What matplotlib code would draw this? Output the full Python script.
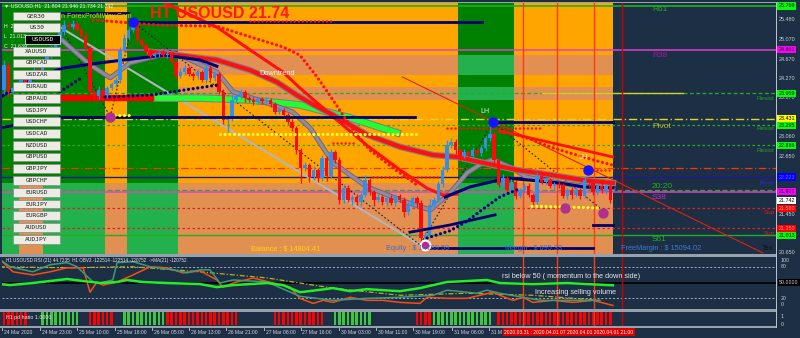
import matplotlib
matplotlib.use("Agg")
import matplotlib.pyplot as plt
from matplotlib.patches import Rectangle
from matplotlib.transforms import blended_transform_factory as blend
import numpy as np

W, H = 800, 338
BG = '#1d2f45'
FONT = 'Liberation Sans'

# ---------------- candle data (hourly bars, index = bar number) ----------------
first_open = 24.03
closes = [24.55, 23.99, 24.07, 24.15, 24.24, 24.17, 24.32, 24.44, 24.38, 24.59,
          24.75, 24.92, 25.06, 25.23, 25.38, 25.33, 25.40, 25.27, 25.15, 24.90,
          23.99, 23.90, 24.03, 23.92, 24.07, 24.15, 24.24, 24.86, 25.11, 25.27,
          25.40, 25.06, 24.96, 24.82, 24.73, 24.77, 24.80, 24.75, 24.77, 24.61,
          24.32, 24.40, 24.48, 24.36, 24.32, 24.40, 24.24, 24.48, 24.28, 24.36,
          23.99, 23.41, 23.45, 23.82, 23.90, 23.99, 23.86, 23.82, 23.78, 23.84,
          23.80, 23.82, 23.74, 23.57, 23.61, 23.51, 23.37, 23.24, 22.78, 22.41,
          22.47, 22.22, 22.37, 22.20, 22.62, 22.25, 22.74, 22.58, 21.75, 22.00,
          21.75, 21.81, 21.71, 21.85, 22.16, 21.91, 21.75, 21.81, 21.71, 21.79,
          21.69, 21.83, 21.75, 21.50, 21.64, 21.79, 21.69, 20.96, 21.02, 21.64,
          21.75, 22.08, 22.37, 22.89, 22.95, 22.78, 22.66, 22.74, 22.66, 22.78,
          22.72, 22.83, 23.03, 23.12, 22.58, 22.06, 22.20, 21.96, 22.12, 21.83,
          21.96, 22.04, 21.85, 21.71, 22.25, 22.12, 22.16, 22.04, 22.08, 22.06,
          21.83, 21.96, 21.85, 21.96, 21.83, 22.16, 22.10, 21.91, 22.04, 21.96,
          22.04, 21.742]
up_wick = [0.10, 0.06, 0.05, 0.06, 0.04, 0.07, 0.05, 0.06, 0.05, 0.08,
           0.06, 0.05, 0.07, 0.05, 0.10, 0.06, 0.08, 0.05, 0.06, 0.07,
           0.05, 0.05, 0.08, 0.06, 0.05, 0.04, 0.06, 0.05, 0.08, 0.06,
           0.08, 0.06, 0.05, 0.04, 0.06, 0.05, 0.04, 0.05, 0.06, 0.04,
           0.05, 0.08, 0.06, 0.05, 0.04, 0.07, 0.05, 0.10, 0.06, 0.05,
           0.04, 0.05, 0.06, 0.12, 0.05, 0.06, 0.04, 0.05, 0.06, 0.05,
           0.04, 0.06, 0.05, 0.04, 0.07, 0.05, 0.04, 0.06, 0.05, 0.04,
           0.06, 0.05, 0.08, 0.05, 0.06, 0.04, 0.07, 0.05, 0.06, 0.08,
           0.05, 0.04, 0.06, 0.05, 0.10, 0.05, 0.04, 0.06, 0.05, 0.04,
           0.06, 0.05, 0.04, 0.05, 0.06, 0.05, 0.04, 0.05, 0.06, 0.12,
           0.05, 0.06, 0.08, 0.10, 0.08, 0.06, 0.05, 0.07, 0.05, 0.06,
           0.05, 0.06, 0.05, 0.24, 0.06, 0.05, 0.08, 0.05, 0.06, 0.05,
           0.04, 0.06, 0.05, 0.04, 0.07, 0.05, 0.06, 0.04, 0.05, 0.06,
           0.05, 0.04, 0.06, 0.05, 0.04, 0.08, 0.05, 0.04, 0.06, 0.05,
           0.04, 0.05]
lo_wick = [0.08, 0.10, 0.05, 0.06, 0.05, 0.04, 0.06, 0.05, 0.07, 0.05,
           0.05, 0.06, 0.04, 0.05, 0.06, 0.05, 0.04, 0.06, 0.05, 0.06,
           0.06, 0.08, 0.05, 0.10, 0.06, 0.04, 0.05, 0.06, 0.05, 0.04,
           0.05, 0.06, 0.05, 0.06, 0.05, 0.04, 0.05, 0.06, 0.05, 0.06,
           0.06, 0.05, 0.06, 0.05, 0.08, 0.06, 0.05, 0.06, 0.05, 0.06,
           0.05, 0.08, 0.25, 0.06, 0.05, 0.06, 0.08, 0.05, 0.06, 0.04,
           0.06, 0.05, 0.06, 0.05, 0.04, 0.06, 0.05, 0.06, 0.08, 0.30,
           0.06, 0.10, 0.05, 0.08, 0.06, 0.10, 0.05, 0.06, 0.08, 0.06,
           0.05, 0.10, 0.06, 0.08, 0.05, 0.06, 0.12, 0.05, 0.06, 0.08,
           0.05, 0.06, 0.05, 0.10, 0.06, 0.05, 0.08, 0.08, 0.06, 0.05,
           0.06, 0.05, 0.06, 0.05, 0.06, 0.08, 0.10, 0.05, 0.06, 0.05,
           0.06, 0.05, 0.06, 0.05, 0.08, 0.05, 0.06, 0.08, 0.05, 0.06,
           0.05, 0.06, 0.05, 0.08, 0.06, 0.05, 0.06, 0.05, 0.08, 0.06,
           0.05, 0.06, 0.08, 0.05, 0.06, 0.05, 0.08, 0.06, 0.05, 0.06,
           0.08, 0.06]

# ---------------- background zones (bar edges) ----------------
upper_edges = [-0.5, 23.5, 28.5, 40.5, 105.5, 118.5, 141.6]
upper_kind = ['g', 'o', 'g', 'o', 'g', 'o']
lower_edges = [-0.5, 3.5, 9.0, 23.5, 28.5, 40.5, 105.5, 118.5, 141.6]
lower_kind = ['g', 'o', 'g', 'o', 'g', 'o', 'g', 'o']
zone_split = 22.10
light_bands = [(24.339, 24.753), (23.821, 24.090)]
light_band_start = 40.5

# ---------------- horizontal levels ----------------
levels = [(25.769, '#1fb01f', '-', 1.2), (24.861, '#e040d0', '-', 1.1),
          (23.959, '#22b022', (0, (3, 2)), 0.9), (23.431, '#d8d820', (0, (6, 2, 1, 2)), 1.0),
          (23.295, '#22b022', (0, (2, 2)), 0.9), (22.886, '#22b022', (0, (2, 2)), 0.9),
          (22.411, '#ff3010', (0, (6, 2, 1, 2)), 0.9), (22.223, '#1a1a9a', '-', 1.0),
          (21.955, '#22b022', (0, (4, 2)), 0.9), (21.921, '#e040d0', '-', 1.1),
          (21.580, '#e02020', (0, (2, 2)), 0.9), (21.168, '#e02020', (0, (2, 2)), 0.9),
          (21.013, '#22b022', '-', 1.0)]

axis_ticks = [25.480, 25.070, 24.670, 24.270, 23.870, 23.060, 22.650, 21.450, 20.650]
price_tags = [(25.769, '#00ff00', 'k'), (24.861, '#ff00ff', 'k'), (23.959, '#00ff00', 'k'),
              (23.431, '#ffff00', 'k'), (23.295, '#00ff00', 'k'), (22.886, '#00ff00', 'k'),
              (22.223, '#0000ff', '#6060ff'), (21.921, '#ff00ff', 'k'), (21.742, '#ffffff', 'k'),
              (21.580, '#ff0000', '#ff9090'), (21.150, '#ff0000', '#ff9090'), (21.013, '#00ff00', 'k')]

# ---------------- moving averages / lines (bar, price) ----------------
navy_left_x = [-0.9, 6.0, 13.7, 22.3, 31.6, 37.4, 45.6, 49.5]
navy_left_y = [23.88, 24.24, 24.48, 24.59, 24.69, 24.75, 24.65, 24.52]
navy_right_x = [102.6, 108.4, 117.0, 122.3, 129.3, 134.7, 141.6]
navy_right_y = [21.81, 22.02, 22.20, 22.16, 22.10, 22.02, 22.00]
red_steep_x = [37.4, 49.5, 57.2, 64.9, 68.8, 78.8, 84.4, 92.1, 98.4, 102.1, 105.3]
red_steep_y = [25.83, 25.33, 24.86, 24.40, 24.07, 23.30, 22.88, 22.37, 21.99, 21.85, 21.87]
red_slow_x = [34.0, 49.5, 57.2, 63.5, 68.1, 71.2, 76.5, 84.4, 92.1, 99.8, 105.3, 111.4, 119.3, 127.0, 134.7, 141.6]
red_slow_y = [24.82, 24.65, 24.44, 24.19, 23.92, 23.76, 23.51, 23.10, 22.85, 22.68, 22.64, 22.52, 22.37, 22.27, 22.16, 22.10]
gray_fast_x = [13.5, 20.0, 24.7, 29.3, 36.3, 40.9, 49.5, 53.3, 61.2, 67.2, 71.2, 76.5, 84.4, 92.1,
               99.1, 103.7, 107.7, 111.4, 113.7, 117.7, 121.6, 129.3, 141.6]
gray_fast_y = [25.06, 24.55, 24.28, 24.59, 24.75, 24.75, 24.40, 23.99, 23.76, 23.57, 23.24, 22.52, 22.02, 21.75,
               21.54, 21.89, 22.31, 22.52, 22.58, 22.43, 22.22, 22.10, 21.96]
ribbon_red_x = [13.0, 35.6]
ribbon_red_y = [23.86, 23.86]
ribbon_green_x = [35.6, 45.6, 57.2, 68.8, 80.5, 91.4]
ribbon_green_y = [23.86, 23.86, 23.82, 23.72, 23.45, 23.14]
trend_gray_x = [13.0, 96.7]
trend_gray_y = [25.33, 20.82]
trend_red_x = [92.6, 176.5]
trend_red_y = [24.30, 20.65]
zigzag_x = [13.5, 24.7, 30.0, 96.7, 113.7, 138.6]
zigzag_y = [25.31, 23.47, 25.44, 20.82, 23.36, 21.58]
lh_line_x = [115.3, 141.6]
lh_line_y = [23.18, 22.64]

# dotted (SAR-like) series
red_sar1_x = [20.7, 36.3, 49.5, 57.2, 64.9, 68.8, 72.8, 76.5, 78.8, 81.2, 85.1, 90.5, 96.0]
red_sar1_y = [25.48, 25.37, 25.35, 25.13, 24.92, 24.75, 24.30, 23.82, 23.51, 23.20, 22.78, 22.41, 22.06]
red_sar2_x = [115.3, 119.3, 123.0, 127.0, 130.9, 134.7, 138.6, 141.6]
red_sar2_y = [23.16, 23.10, 22.99, 22.85, 22.74, 22.64, 22.54, 22.47]
navy_sar_left_x = [13.0, 18.4]
navy_sar_left_y = [23.99, 24.30]
navy_sar_mid_x = [23.5, 34.0, 42.1, 49.5]
navy_sar_mid_y = [23.88, 23.92, 24.03, 24.13]
navy_sar_right_x = [98.4, 103.7, 107.7, 111.4, 115.3, 119.3]
navy_sar_right_y = [20.96, 21.11, 21.31, 21.56, 21.81, 21.96]
yellow_dots = [((50.2, 96.7), (23.12, 23.12)), ((122.8, 138.6), (21.62, 21.58)), ((24.7, 29.3), (23.51, 23.51))]
red_dot_rows = [((57.2, 76.3), 25.46), ((76.5, 82.1), 22.93), ((85.8, 101.4), 22.22),
                ((103.0, 124.7), 23.24), ((137.0, 141.6), 22.37)]
navy_rows = [((13.0, 28.8), (25.62, 25.62)), ((30.0, 111.2), (25.44, 25.44)), ((13.0, 95.6), (23.47, 23.47)),
             ((113.7, 141.6), (23.36, 23.36)), ((97.4, 137.0), (20.75, 20.75)), ((137.0, 141.6), (21.23, 21.23)),
             ((-0.9, 9.1), (23.24, 23.41))]
navy_curve_x = [94.4, 103.7, 114.2]
navy_curve_y = [21.08, 21.23, 21.44]

magenta_pts = [(24.7, 23.47), (130.5, 21.58), (139.3, 21.48)]
blue_pts = [(30.0, 25.44), (113.7, 23.36), (135.8, 22.37)]
ring_pt = (97.9, 20.82)
lh_labels = [(111.9, 23.50), (134.7, 22.55)]
vlines_bars = [120.7, 128.6, 137.2]
vline_dark = 143.7

zone_labels = [('R61', 25.686, '#22b022'), ('R38', 24.753, '#9a1fa0'), ('Pivot', 23.28, '#b8b830'),
               ('20:20', 22.02, '#22b022'), ('S38', 21.81, '#c030c0'), ('S61', 20.92, '#22b022')]
side_labels = [('Resist', 175.1, 23.86, '#22a022'), ('Resist', 175.1, 23.22, '#22a022'),
               ('Resist', 175.1, 22.78, '#22a022'), ('Pivot', 175.6, 22.10, '#2a2ad0'),
               ('Sup', 176.7, 21.48, '#d02020'), ('Sup', 176.7, 21.06, '#d02020')]

# ---------------- RSI / OBV panel ----------------
rsi_x = [-0.9, 1.4, 6.7, 10.7, 14.7, 18.4, 22.3, 26.3, 28.6, 32.3, 37.9, 45.6, 49.5, 53.3, 61.2, 64.9, 68.8,
         72.8, 76.5, 80.5, 84.4, 88.1, 92.1, 96.7, 99.8, 103.0, 107.7, 112.3, 115.3, 123.0, 130.9, 135.6, 141.6]
rsi_v = [47.0, 45.1, 49.0, 52.8, 56.7, 52.8, 49.0, 50.9, 54.8, 50.9, 49.0, 47.0, 41.2, 45.1, 49.0, 45.1, 31.5,
         35.4, 39.3, 33.5, 37.4, 35.4, 33.5, 39.3, 45.1, 50.9, 52.8, 54.8, 49.0, 47.0, 49.0, 47.0, 44.7]
obv_x = [-0.9, 2.1, 6.7, 10.7, 14.7, 18.4, 20.0, 21.6, 23.0, 26.3, 30.0, 34.0, 37.9, 41.6, 45.6, 49.5, 50.9,
         53.3, 57.9, 62.6, 66.5, 68.8, 71.9, 74.2, 76.5, 80.5, 84.4, 88.1, 92.1, 96.7, 98.4, 103.0, 107.7,
         113.7, 115.3, 118.4, 120.7, 123.0, 127.7, 132.3, 137.0, 141.6]
obv_v = [93.5, 70.3, 64.4, 70.3, 78.0, 78.0, 31.5, 50.9, 45.1, 50.9, 64.4, 79.9, 78.0, 68.3, 72.2, 54.8, 41.2,
         49.0, 58.6, 49.0, 41.2, 19.9, 10.3, 16.1, 12.2, 21.9, 16.1, 16.1, 12.2, 10.3, 21.9, 19.9, 19.9,
         31.5, 25.7, 16.1, 21.9, 12.2, 16.1, 12.2, 16.1, 6.4]
obv2_x = [-0.9, 1.4, 6.7, 10.7, 14.7, 17.0, 20.7, 22.3, 25.3, 26.3, 30.0, 34.0, 39.3, 42.6, 45.6, 47.9, 50.2,
          53.3, 61.2, 68.8, 76.5, 84.4, 92.1, 99.8, 103.0, 107.7, 110.0, 112.3, 115.3, 124.7, 134.0, 138.6]
obv2_v = [93.5, 79.9, 70.3, 83.8, 87.7, 79.9, 50.9, 49.0, 54.8, 87.7, 89.6, 79.9, 74.1, 68.3, 74.1, 74.1, 49.0,
          54.8, 50.9, 23.8, 16.1, 19.9, 21.9, 25.7, 35.4, 31.5, 29.6, 35.4, 29.6, 16.1, 16.1, 16.1]
obv_ma_x = [-0.9, 14.7, 30.0, 45.6, 61.2, 76.5, 92.1, 107.7, 123.0, 138.6]
obv_ma_v = [79.9, 78.0, 79.9, 70.3, 58.6, 39.3, 25.7, 29.6, 25.7, 16.1]

# ---------------- ratio histogram (bar ranges) ----------------
hist_runs = [(0, 5, 'r'), (9, 17, 'g'), (20, 25, 'r'), (28, 37, 'g'), (38, 54, 'r'),
             (63, 74, 'r'), (77, 85, 'g'), (96, 99, 'r'), (100, 113, 'g'), (115, 141, 'r')]

# ---------------- time axis ----------------
time_ticks = [-0.5, 8.4, 17.0, 25.8, 34.4, 43.0, 51.6, 60.5, 69.0, 77.9, 86.5, 95.1, 104.2, 112.8]
time_labels = ['24 Mar 2020', '24 Mar 23:00', '25 Mar 10:00', '25 Mar 18:00', '26 Mar 05:00',
               '26 Mar 13:00', '26 Mar 21:00', '27 Mar 08:00', '27 Mar 16:00', '30 Mar 03:00',
               '30 Mar 11:00', '30 Mar 19:00', '31 Mar 06:00', '31 M']

symbols = ['GER30', 'US30', 'USOUSD', 'XAUUSD', 'GBPCAD', 'USDZAR', 'EURAUD', 'GBPAUD', 'USDJPY', 'USDCHF',
           'USDCAD', 'NZDUSD', 'GBPUSD', 'GBPJPY', 'GBPCHF', 'EURUSD', 'EURJPY', 'EURGBP', 'AUDUSD', 'AUDJPY']

# =============================== drawing ===============================
fig = plt.figure(figsize=(8, 3.38), dpi=100, facecolor=BG)


def fx(px):
    return px / W


def fy(py):
    return 1 - py / H


XL = (-0.465, 179.53)
ax = fig.add_axes([fx(2), fy(253.5), fx(776) - fx(2), (253.5 - 3) / H])
ax.set_xlim(*XL)
ax.set_ylim(20.639, 25.831)
ax.axis('off')

COL = {'g': '#008000', 'o': '#ffa500'}
LCOL = {'g': '#22b14c', 'o': '#e28f52'}
for i, k in enumerate(upper_kind):
    x0, x1 = upper_edges[i], upper_edges[i + 1]
    ax.add_patch(Rectangle((x0, zone_split), x1 - x0, 25.831 - zone_split, color=COL[k], lw=0, zorder=0))
    xs = max(x0, light_band_start)
    if xs < x1:
        for b0, b1 in light_bands:
            ax.add_patch(Rectangle((xs, b0), x1 - xs, b1 - b0, color=LCOL[k], lw=0, zorder=0.1))
for i, k in enumerate(lower_kind):
    x0, x1 = lower_edges[i], lower_edges[i + 1]
    ax.add_patch(Rectangle((x0, 20.639), x1 - x0, zone_split - 20.639, color=LCOL[k], lw=0, zorder=0))

for p, c, ls, lw in levels:
    ax.axhline(p, color=c, ls=ls, lw=lw, zorder=1)
ax.plot([125.1, 158.0], [23.959, 23.959], color='#d0d020', lw=1.0, zorder=1.1)

for b in vlines_bars:
    ax.axvline(b, color='#ff3a10', lw=1.0, zorder=1.5)
ax.axvline(vline_dark, color='#d00000', lw=1.0, zorder=1.5)

ax.plot(trend_gray_x, trend_gray_y, color='#b4b4bc', lw=1.5, zorder=2)
ax.plot(trend_red_x, trend_red_y, color='#e02010', lw=0.8, zorder=2)
ax.plot(zigzag_x, zigzag_y, color='#202020', lw=0.8, ls=(0, (1.5, 2)), zorder=2)

# ribbon
ax.plot(ribbon_red_x, ribbon_red_y, color='#ff0000', lw=4.5, zorder=2.5, solid_capstyle='butt')
ax.plot(ribbon_green_x, ribbon_green_y, color='#808080', lw=5.5, zorder=2.4)
ax.plot(ribbon_green_x, ribbon_green_y, color='#20ff30', lw=4.0, zorder=2.5)

ax.plot(gray_fast_x, gray_fast_y, color='#7a5f8a', lw=3.6, zorder=3)
ax.plot(gray_fast_x, gray_fast_y, color='#8e8e98', lw=2.2, zorder=3.05)
ax.plot(red_slow_x, red_slow_y, color='#808088', lw=4.6, zorder=3.1)
ax.plot(red_slow_x, red_slow_y, color='#ff1010', lw=3.0, zorder=3.15)
ax.plot(red_steep_x, red_steep_y, color='#ff1010', lw=2.2, zorder=3.2)
ax.plot(navy_left_x, navy_left_y, color='#00007a', lw=2.2, zorder=3.2)
ax.plot(navy_right_x, navy_right_y, color='#00007a', lw=2.2, zorder=3.2)
ax.plot(lh_line_x, lh_line_y, color='#ff1010', lw=2.0, zorder=3.2)

# candles
idx = np.arange(len(closes))
c = np.array(closes)
o = np.array([first_open] + closes[:-1])
hi = np.maximum(o, c) + np.array(up_wick)
lo = np.minimum(o, c) - np.array(lo_wick)
cols = np.where(c >= o, '#2f8fea', '#ff0a0a')
ax.vlines(idx, lo, hi, colors=cols, lw=0.9, zorder=4)
ax.bar(idx, np.maximum(np.abs(c - o), 0.02), bottom=np.minimum(o, c), width=0.8, color=cols, lw=0, zorder=4.1)

for (xa, xb), (ya, yb) in navy_rows:
    ax.plot([xa, xb], [ya, yb], color='#000070', lw=2.0, zorder=4.5)
ax.plot(navy_curve_x, navy_curve_y, color='#000070', lw=2.0, zorder=4.5)

DOT = dict(ls=(0, (0.01, 1.45)), dash_capstyle='round', lw=2.3, zorder=5)
ax.plot(red_sar1_x, red_sar1_y, color='#ff1010', **DOT)
ax.plot(red_sar2_x, red_sar2_y, color='#ff1010', **DOT)
for xs_, ys_ in [(navy_sar_left_x, navy_sar_left_y), (navy_sar_mid_x, navy_sar_mid_y),
                 (navy_sar_right_x, navy_sar_right_y)]:
    ax.plot(xs_, ys_, color='#000080', **DOT)
for xs_, ys_ in yellow_dots:
    ax.plot(xs_, ys_, color='#ffff20', **DOT)
for (xa, xb), yv in red_dot_rows:
    ax.plot([xa, xb], [yv, yv], color='#ff1010', ls=(0, (0.01, 1.6)), dash_capstyle='round', lw=1.8, zorder=5)

for xm, ym in magenta_pts:
    ax.plot(xm, ym, 'o', ms=6.5, color='#b0308e', zorder=6)
for xm, ym in blue_pts:
    ax.plot(xm, ym, 'o', ms=6.5, color='#1414ff', zorder=6)
ax.plot(*ring_pt, 'o', ms=7, mfc='#c02090', mec='white', mew=1.5, zorder=6)
for xl, yl in lh_labels:
    ax.text(xl, yl, 'LH', color='#f0f0f0', fontsize=5, family=FONT, ha='center', va='bottom', zorder=7)

for s, yv, col in zone_labels:
    ax.text(150.7, yv, s, color=col, fontsize=6, family=FONT, ha='left', va='center', zorder=7)
for s, xv, yv, col in side_labels:
    ax.text(xv, yv, s, color=col, fontsize=4.6, family=FONT, ha='left', va='center', zorder=7, clip_on=True)

ax.text(59.5, 24.38, 'Downtrend', color='#f4f4f4', fontsize=5.3, family=FONT, ha='left', va='center', zorder=7)

# right price axis
tr = blend(fig.transFigure, ax.transData)
for p in axis_ticks:
    fig.text(fx(779), p, f'{p:.3f}', transform=tr, color='#c8d0d8', fontsize=3.9, family=FONT, va='center')
for p, fc, tc in price_tags:
    fig.text(fx(778.5), p, f'{p:.3f}', transform=tr, color=tc, fontsize=3.9, family=FONT, va='center',
             bbox=dict(boxstyle='square,pad=0.2', fc=fc, ec='none'))

# ---------------- RSI panel ----------------
ax2 = fig.add_axes([fx(2), fy(308.5), fx(776) - fx(2), (308.5 - 256.5) / H])
ax2.set_xlim(*XL)
ax2.set_ylim(0.6, 99.4)
ax2.axis('off')
ax2.axhline(80, color='#a8b0b8', ls=(0, (2, 2)), lw=0.7)
ax2.axhline(20, color='#a8b0b8', ls=(0, (2, 2)), lw=0.7)
ax2.axhline(50, color='#000000', lw=1.2)
for b in vlines_bars:
    ax2.axvline(b, color='#ff3a10', lw=1.0)
ax2.axvline(vline_dark, color='#d00000', lw=1.0)
ax2.plot(obv_ma_x, obv_ma_v, color='#b8b020', lw=0.9, ls=(0, (4, 1.5, 1, 1.5)))
ax2.plot(obv_x, obv_v, color='#ff4a10', lw=1.1)
ax2.plot(obv2_x, obv2_v, color='#3d9a7a', lw=1.1)
ax2.plot(rsi_x, rsi_v, color='#22ee22', lw=1.8)
ax2.text(0.005, 0.93, 'H1 USOUSD RSI (21) 44.7235  H1 OBV2 -122514 -122514 -120752  ->MA(21) -120752',
         transform=ax2.transAxes, color='#e8e8e8', fontsize=3.3, family=FONT, va='center')
fig.text(fx(571), fy(276.5), 'rsi below 50 ( momentum to the down side)', color='#e8e8e8', fontsize=5.2,
         family=FONT, ha='center', va='center')
fig.text(fx(576), fy(292.5), 'Increasing selling volume', color='#e8e8e8', fontsize=5.2, family=FONT,
         ha='center', va='center')
for s, yy in [('100', 261), ('80', 267), ('20', 298), ('0', 305)]:
    fig.text(fx(781), fy(yy), s, color='#c8d0d8', fontsize=3.8, family=FONT, va='center')
fig.text(fx(779), fy(282.5), '50.0000', color='#d0d0d0', fontsize=3.8, family=FONT, va='center',
         bbox=dict(boxstyle='square,pad=0.2', fc='#000000', ec='none'))

# ---------------- histogram panel ----------------
ax3 = fig.add_axes([fx(2), fy(325.5), fx(776) - fx(2), 14 / H])
ax3.set_xlim(*XL)
ax3.set_ylim(0, 1)
ax3.axis('off')
for a, b, k in hist_runs:
    xs = np.arange(a, b + 1)
    ax3.bar(xs, np.full(len(xs), 0.92), bottom=0.04, width=0.6,
            color='#ff0000' if k == 'r' else '#3cc83c', lw=0)
for b in vlines_bars:
    ax3.axvline(b, color='#ff3a10', lw=1.0)
ax3.axvline(vline_dark, color='#d00000', lw=1.0)
ax3.text(0.005, 0.6, 'H1 pd hatio 1.0000', transform=ax3.transAxes, color='#e8e8e8', fontsize=3.8,
         family=FONT, va='center')
fig.text(fx(781), fy(316), '1', color='#c8d0d8', fontsize=3.8, family=FONT, va='center')
fig.text(fx(781), fy(324), '0', color='#c8d0d8', fontsize=3.8, family=FONT, va='center')

# ---------------- separators ----------------
SEP = '#97a1ac'
for y0, y1 in [(1.5, 3), (253.5, 256.5), (308.5, 311.5), (325.5, 327.5)]:
    fig.add_artist(Rectangle((0, fy(y1)), fx(777), (y1 - y0) / H, transform=fig.transFigure,
                             color=SEP, lw=0, zorder=10))
fig.add_artist(Rectangle((fx(776), fy(327.5)), 1.3 / W, 326 / H, transform=fig.transFigure,
                         color='#b8c0c8', lw=0, zorder=10))

# time axis
trx = blend(ax3.transData, fig.transFigure)
for t, s in zip(time_ticks, time_labels):
    fig.add_artist(plt.Line2D([t, t], [fy(327.5), fy(329.5)], transform=trx, color='#c8d0d8', lw=0.6))
    fig.text(t + 0.4, fy(332), s, transform=trx, color='#d0d8e0', fontsize=3.6, family=FONT, va='center')
fig.text(fx(504), fy(332), '2020.03.31 : 2020.04.01 07 2020.04.01 2020.04.01 21:00', color='#ffffff',
         fontsize=3.6, family=FONT, va='center',
         bbox=dict(boxstyle='square,pad=0.3', fc='#e00000', ec='none'), zorder=11)

# ---------------- overlay texts ----------------
fig.text(fx(150), fy(13), 'HT USOUSD 21.74', color='#ff1a1a', fontsize=11.5, family=FONT, weight='bold',
         va='center', zorder=12)
fig.text(fx(4), fy(5.5), '\u25bc USOUSD,H1  21.804 21.946 21.734 21.742', color='#f0f0f0', fontsize=3.8,
         family=FONT, va='center', zorder=12)
fig.text(fx(61), fy(16), 'n ForexProfitWay.Com', color='#d8d800', fontsize=5, family=FONT,
         va='center', zorder=12)
fig.text(fx(251), fy(249), 'Balance : $ 14804.41', color='#ffd700', fontsize=5.3, family=FONT, va='center',
         zorder=12)
fig.text(fx(386), fy(249), 'Equity : $ 14789.59', color='#3a72cc', fontsize=5.3, family=FONT, va='center',
         zorder=12)
fig.text(fx(505), fy(249), 'Margin : $ 695.33', color='#3a72cc', fontsize=5.3, family=FONT, va='center',
         zorder=12)
fig.text(fx(621), fy(249), 'FreeMargin : $ 15094.02', color='#3a7ad0', fontsize=5.3, family=FONT,
         va='center', zorder=12)
fig.text(fx(762), fy(249), 'Tex', color='#101010', fontsize=5.3, family=FONT, va='center', zorder=9)

# symbol buttons
for k, s in enumerate(symbols):
    cy = 16 + 11.75 * k
    sel = s == 'USOUSD'
    x0 = 25 if sel else 13
    fig.add_artist(Rectangle((fx(x0), fy(cy + 4.3)), fx(60) - fx(x0), 8.6 / H, transform=fig.transFigure,
                             fc='#000000' if sel else '#ecebe4', ec='#8a8a8a' if not sel else '#ffffff',
                             lw=0.5, zorder=13))
    fig.text(fx(36.5) if not sel else fx(42.5), fy(cy), s, color='#ffffff' if sel else '#202020',
             fontsize=4.4, family='DejaVu Sans Mono', ha='center', va='center', zorder=14)

for s, yy in [('H  21.350', 27), ('L  21.013', 37), ('C  21.639', 47)]:
    fig.text(fx(4), fy(yy), s, color='#f0f0f0', fontsize=3.8, family=FONT, va='center', zorder=15)

fig.savefig('out.png', dpi=100, facecolor=BG)
